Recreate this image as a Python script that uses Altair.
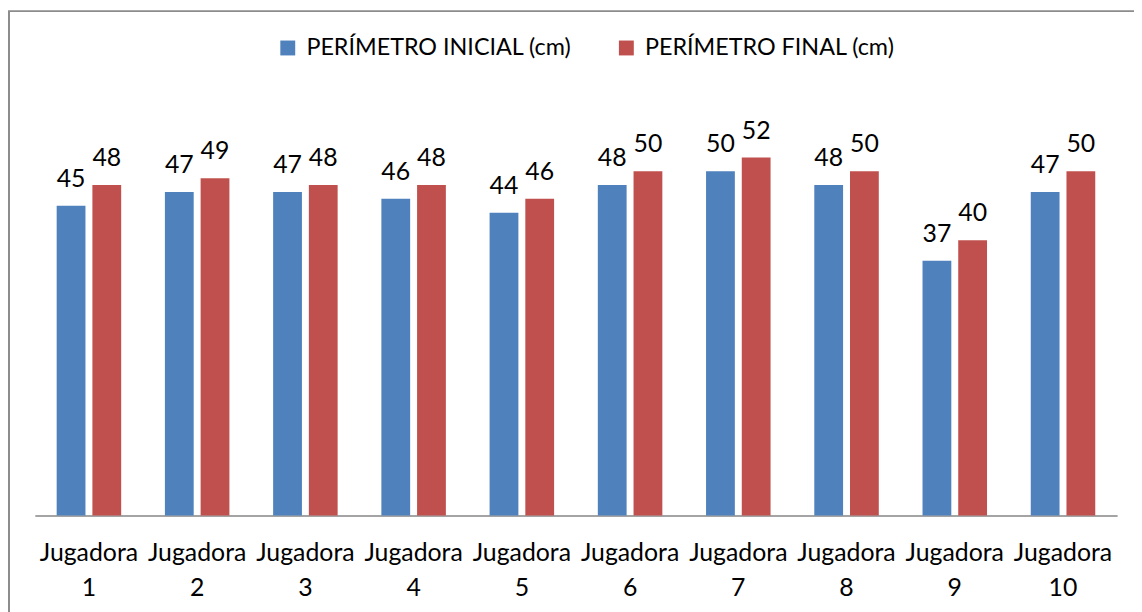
import altair as alt
import pandas as pd

jugadoras = ["Jugadora 1", "Jugadora 2", "Jugadora 3", "Jugadora 4", "Jugadora 5",
             "Jugadora 6", "Jugadora 7", "Jugadora 8", "Jugadora 9", "Jugadora 10"]
series = ["PERÍMETRO INICIAL (cm)", "PERÍMETRO FINAL (cm)"]
inicial = [45, 47, 47, 46, 44, 48, 50, 48, 37, 47]
final = [48, 49, 48, 48, 46, 50, 52, 50, 40, 50]
colors = ["#4F81BD", "#C0504D"]

rows = []
for j, a, b in zip(jugadoras, inicial, final):
    rows.append({"jugadora": j, "serie": series[0], "valor": a})
    rows.append({"jugadora": j, "serie": series[1], "valor": b})
df = pd.DataFrame(rows)

FONT = "Lato"
FS = 25

base = alt.Chart(df).encode(
    x=alt.X("jugadora:N", sort=jugadoras,
            scale=alt.Scale(paddingInner=0.404, paddingOuter=0.202),
            axis=alt.Axis(title=None, labelAngle=0, labelFont=FONT, labelFontSize=FS,
                          labelColor="black", labelExpr="split(datum.label, ' ')",
                          labelLineHeight=36, labelPadding=25, ticks=False,
                          domainColor="#868686", domainWidth=1.5, grid=False)),
    xOffset=alt.XOffset("serie:N", sort=series,
                        scale=alt.Scale(paddingInner=0.194, paddingOuter=0)),
    y=alt.Y("valor:Q", scale=alt.Scale(domain=[0, 60]), axis=None),
)

bars = base.mark_bar().encode(
    color=alt.Color("serie:N", sort=series,
                    scale=alt.Scale(domain=series, range=colors),
                    legend=alt.Legend(orient="none", legendX=243, legendY=-67,
                                      direction="horizontal", title=None,
                                      symbolType="square", symbolSize=225,
                                      symbolStrokeWidth=0, symbolOpacity=1,
                                      labelFont=FONT, labelFontSize=23.5,
                                      labelColor="black", labelOffset=7,
                                      columnPadding=43, padding=0, labelLimit=400))
)

labels = base.mark_text(dy=-19, baseline="alphabetic", font=FONT, fontSize=FS,
                        color="black").encode(text="valor:Q")

border = alt.Chart(pd.DataFrame({"a": [0]})).mark_rect(
    fill="transparent", stroke="#8c8c8c", strokeWidth=2
).encode(x=alt.value(-26), x2=alt.value(1250), y=alt.value(-92), y2=alt.value(700))

chart = alt.layer(border, bars, labels).properties(
    width=1090, height=416,
    autosize=alt.AutoSizeParams(type="none"),
    padding={"left": 27, "top": 93, "right": 17, "bottom": 95},
).configure_view(strokeWidth=0)

chart.save("out.html", embed_options={"renderer": "svg", "actions": False})
